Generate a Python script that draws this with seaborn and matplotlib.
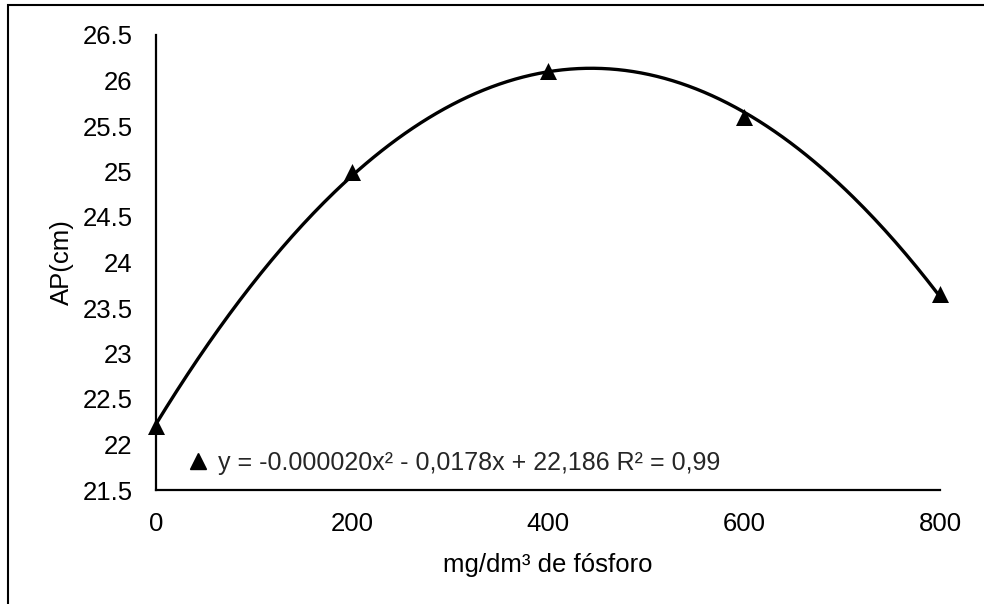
import numpy as np
import pandas as pd
import matplotlib
matplotlib.use("Agg")
import matplotlib.pyplot as plt
import seaborn as sns
from matplotlib.lines import Line2D
from matplotlib.patches import Rectangle

# Data
doses = [0, 200, 400, 600, 800]
ap_cm = [22.2, 25.0, 26.1, 25.6, 23.65]
x_ticks = [0, 200, 400, 600, 800]
y_ticks = [21.5, 22, 22.5, 23, 23.5, 24, 24.5, 25, 25.5, 26, 26.5]
y_ticklabels = ["21.5", "22", "22.5", "23", "23.5", "24", "24.5", "25", "25.5", "26", "26.5"]
x_label = "mg/dm³ de fósforo"
y_label = "AP(cm)"
equation = "y = -0.000020x² - 0,0178x + 22,186 R² = 0,99"

sns.set_theme(style="white")
plt.rcParams["font.family"] = ["Liberation Sans", "DejaVu Sans"]

df = pd.DataFrame({"dose": doses, "ap": ap_cm})

# quadratic trendline fitted to the points
coef = np.polyfit(df["dose"], df["ap"], 2)
xs = np.linspace(min(doses), max(doses), 300)
fit = pd.DataFrame({"dose": xs, "ap": np.polyval(coef, xs)})

fig = plt.figure(figsize=(9.84, 6.04), dpi=100)
ax = fig.add_axes([156 / 984, 1 - 490 / 604, (940 - 156) / 984, (490 - 35) / 604])

sns.lineplot(data=fit, x="dose", y="ap", ax=ax, color="black", linewidth=2.4)
sns.scatterplot(data=df, x="dose", y="ap", ax=ax, marker="^", s=150,
                color="black", edgecolor="black", linewidth=0, zorder=5,
                clip_on=False)

ax.set_xlim(0, 800)
ax.set_ylim(21.5, 26.5)
ax.set_xticks(x_ticks)
ax.set_xticklabels([str(v) for v in x_ticks])
ax.set_yticks(y_ticks)
ax.set_yticklabels(y_ticklabels)
ax.tick_params(axis="both", length=0, labelsize=18.5, colors="black")
ax.tick_params(axis="y", pad=17)
ax.tick_params(axis="x", pad=16)

for s in ["top", "right"]:
    ax.spines[s].set_visible(False)
for s in ["left", "bottom"]:
    ax.spines[s].set_color("black")
    ax.spines[s].set_linewidth(1.6)

ax.set_xlabel(x_label, fontsize=18.5, color="black", labelpad=12)
ax.set_ylabel(y_label, fontsize=18.5, color="black", labelpad=6)

handle = Line2D([], [], marker="^", ls="", color="black", markersize=12)
ax.legend([handle], [equation], loc="lower left", bbox_to_anchor=(0.015, -0.011),
          frameon=False, fontsize=18, handlelength=0.8, handletextpad=0.4,
          borderaxespad=0.4)

# outer border
fig.patches.append(Rectangle((8 / 984, -0.1), 1.2, 1 - 5 / 604 + 0.1,
                             transform=fig.transFigure, fill=False,
                             edgecolor="black", linewidth=1.5))

fig.savefig("out.png", dpi=100)
